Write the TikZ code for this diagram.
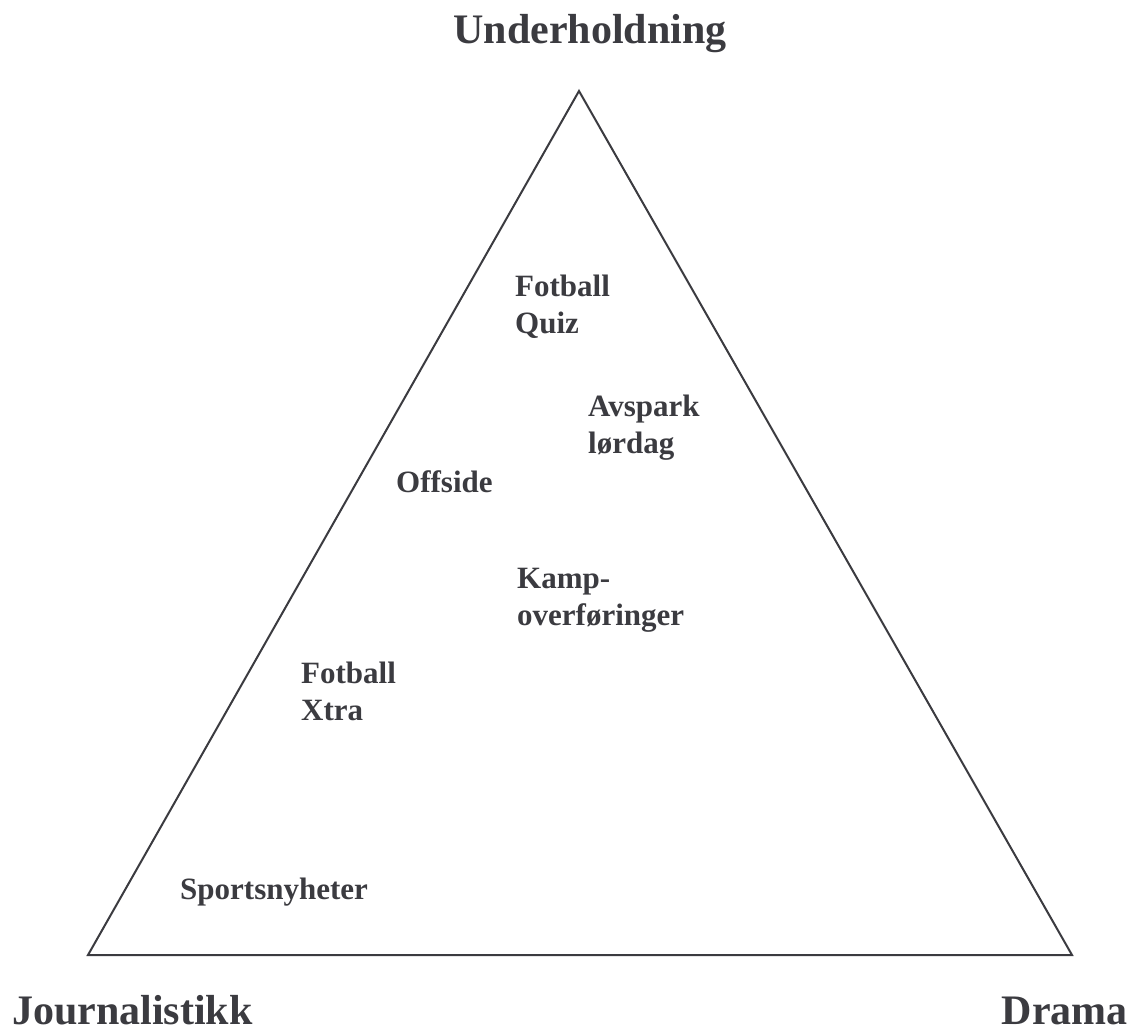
\documentclass[tikz,border=0pt]{standalone}
\usepackage{fontspec}
\setmainfont{Liberation Serif}
\definecolor{ink}{HTML}{3B3B40}
\begin{document}
\begin{tikzpicture}[x=1pt,y=-1pt,
  corner/.style={inner sep=0pt,text=ink,font=\fontsize{42}{48}\selectfont\bfseries},
  lab/.style={inner sep=0pt,text=ink,align=left,anchor=base west,font=\fontsize{31}{37}\selectfont\bfseries},
  edge/.style={draw=ink,line width=2pt,line join=miter}]
\useasboundingbox (0,0) rectangle (1136,1031);
\fill[white] (0,0) rectangle (1136,1031);
\coordinate (top) at (579,91);
\coordinate (bl) at (88,955);
\coordinate (br) at (1072,955);
\draw[edge] (top) -- (bl) -- (br) -- cycle;
\node[corner,anchor=base] (u) at (590,43) {Underholdning};
\node[corner,anchor=base west] (j) at (12,1024) {Journalistikk};
\node[corner,anchor=base east] (d) at (1128,1024) {Drama};
\node[lab] (fq) at (515,333) {Fotball\\Quiz};
\node[lab] (al) at (588,453) {Avspark\\lørdag};
\node[lab] (off) at (396,492) {Offside};
\node[lab] (ko) at (517,625) {Kamp-\\overføringer};
\node[lab] (fx) at (301,720) {Fotball\\Xtra};
\node[lab] (sn) at (180,899) {Sportsnyheter};
\end{tikzpicture}
\end{document}
